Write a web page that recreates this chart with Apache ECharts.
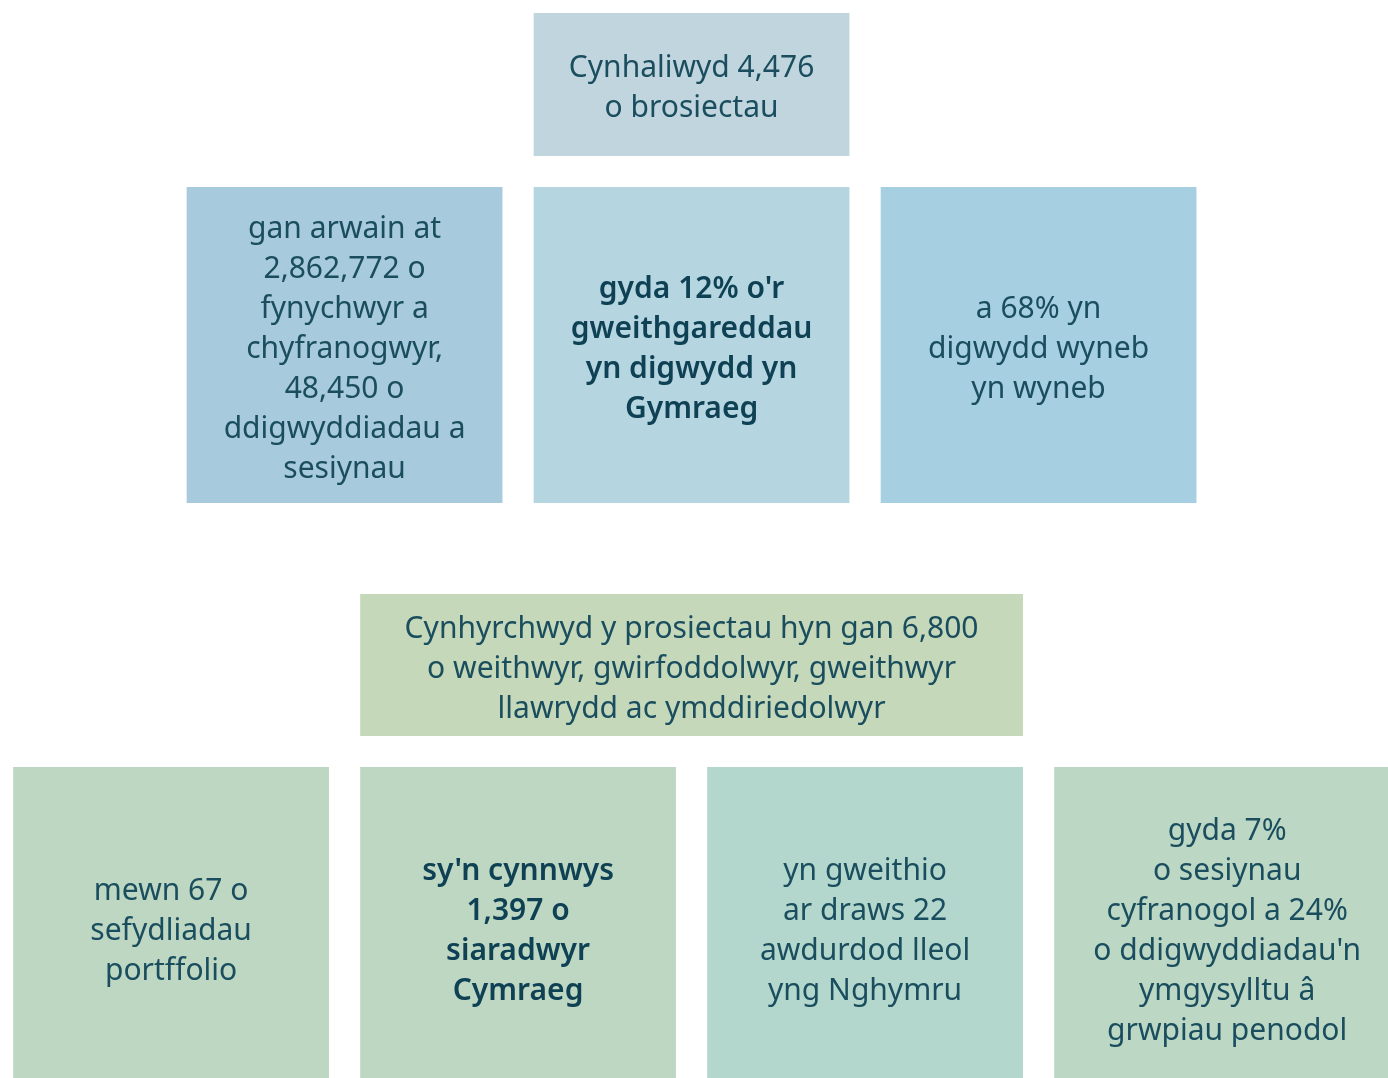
<!DOCTYPE html>
<html>
<head>
<meta charset="utf-8">
<script src="https://cdn.jsdelivr.net/npm/echarts@6/dist/echarts.min.js"></script>
<style>
  html, body { margin: 0; padding: 0; background: #ffffff; }
  #main { width: 1388px; height: 1078px; }
</style>
</head>
<body>
<div id="main"></div>
<script>
// texts of each tier
var topHeader = ['Cynhaliwyd 4,476\no brosiectau'];
var topBoxes = [
  'gan arwain at\n2,862,772 o\nfynychwyr a\nchyfranogwyr,\n48,450 o\nddigwyddiadau a\nsesiynau',
  "gyda 12% o'r\ngweithgareddau\nyn digwydd yn\nGymraeg",
  'a 68% yn\ndigwydd wyneb\nyn wyneb'
];
var topBold = [false, true, false];
var bottomHeader = ['Cynhyrchwyd y prosiectau hyn gan 6,800\no weithwyr, gwirfoddolwyr, gweithwyr\nllawrydd ac ymddiriedolwyr'];
var bottomBoxes = [
  'mewn 67 o\nsefydliadau\nportffolio',
  "sy'n cynnwys\n1,397 o\nsiaradwyr\nCymraeg",
  'yn gweithio\nar draws 22\nawdurdod lleol\nyng Nghymru',
  "gyda 7%\no sesiynau\ncyfranogol a 24%\no ddigwyddiadau'n\nymgysylltu â\ngrwpiau penodol"
];
var bottomBold = [false, true, false, false];

// layout (axis units: x = columns, y = px rows)
var tiers = [
  { top: 13, bottom: 156 },
  { top: 187, bottom: 503 },
  { top: 594, bottom: 736 },
  { top: 767, bottom: 1087 }
];
var colors = {
  topHeader: ['#c1d5de'],
  topBoxes: ['#a8cadd', '#b5d6e1', '#a7cfe2'],
  bottomHeader: ['#c5d8b9'],
  bottomBoxes: ['#bdd7c3', '#bed7c2', '#b3d7cc', '#bcd7c4']
};
var boxW = 0.91;

var items = [];
function add(texts, bold, tier, firstCol, span, key, lastWide) {
  texts.forEach(function (t, i) {
    var left = firstCol + i - boxW / 2;
    var w = span - 1 + boxW;
    if (lastWide && i === texts.length - 1) w = 0.997;
    items.push({
      value: [left, tier, w],
      text: t,
      bold: bold ? bold[i] : false,
      color: colors[key][i]
    });
  });
}
add(topHeader, null, 0, 2, 1, 'topHeader');
add(topBoxes, topBold, 1, 1, 1, 'topBoxes');
add(bottomHeader, null, 2, 1.5, 2, 'bottomHeader');
add(bottomBoxes, bottomBold, 3, 0.5, 1, 'bottomBoxes', true);

var chart = echarts.init(document.getElementById('main'));
chart.setOption({
  backgroundColor: '#ffffff',
  animation: false,
  grid: { left: 0, right: 0, top: 0, bottom: 0 },
  xAxis: { type: 'value', min: 0.007, max: 4.007, show: false },
  yAxis: { type: 'value', min: 0, max: 1078, inverse: true, show: false },
  series: [{
    type: 'custom',
    clip: false,
    data: items,
    renderItem: function (params, api) {
      var it = items[params.dataIndex];
      var left = api.value(0);
      var tier = tiers[api.value(1)];
      var w = api.value(2);
      var p0 = api.coord([left, tier.top]);
      var p1 = api.coord([left + w, tier.bottom]);
      return {
        type: 'group',
        children: [{
          type: 'rect',
          shape: { x: p0[0], y: p0[1], width: p1[0] - p0[0], height: p1[1] - p0[1] },
          style: { fill: it.color }
        }, {
          type: 'text',
          x: (p0[0] + p1[0]) / 2,
          y: (p0[1] + p1[1]) / 2 + 4,
          style: {
            text: it.text,
            align: 'center',
            verticalAlign: 'middle',
            fontFamily: 'Noto Sans',
            fontSize: 30,
            lineHeight: 40,
            fontWeight: it.bold ? 600 : 'normal',
            fill: it.bold ? '#0f4154' : '#1a4e5e'
          }
        }]
      };
    }
  }]
});
</script>
</body>
</html>
